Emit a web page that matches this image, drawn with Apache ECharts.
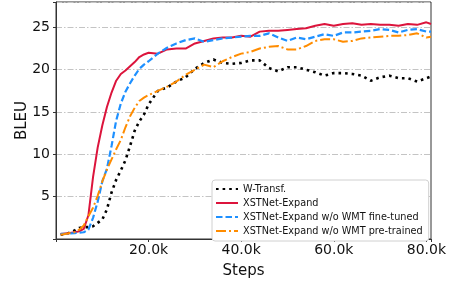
<!DOCTYPE html>
<html>
<head>
<meta charset="utf-8">
<script src="https://cdn.jsdelivr.net/npm/echarts@6/dist/echarts.min.js"></script>
<style>
  html, body { margin: 0; padding: 0; background: #fff; }
  #chart { width: 454px; height: 284px; }
</style>
</head>
<body>
<div id="chart"></div>
<script>
// training steps, in thousands
var steps = [1, 2, 3, 4, 5, 6, 7, 8, 9, 10, 11, 12, 13, 14, 15, 16, 17, 18, 19, 20,
    22, 24, 26, 28, 30, 32, 34, 36, 38, 40, 42, 44, 46, 48, 50, 52, 54, 56, 58, 60,
    62, 64, 66, 68, 70, 72, 74, 76, 78, 80, 81];

var wTransf = [0.5, 0.6, 0.75, 1.0, 1.3, 1.4, 1.4, 1.5, 1.9, 2.3, 3.5, 5.5, 7.0, 8.1, 9.3, 11.0, 12.8, 13.9, 14.7, 15.9,
    17.5, 17.9, 18.6, 19.1, 20.1, 20.8, 21.2, 20.8, 20.7, 20.8, 21.1, 21.1, 20.2, 19.8, 20.3, 20.3, 20.0, 19.7, 19.3, 19.6,
    19.6, 19.5, 19.3, 18.7, 19.1, 19.3, 19.0, 19.0, 18.6, 19.0, 19.2];

var xstnet = [0.6, 0.65, 0.7, 0.8, 0.9, 1.2, 2.8, 7.3, 10.8, 13.4, 15.6, 17.3, 18.7, 19.5, 19.9, 20.4, 20.9, 21.5, 21.8, 22.0,
    21.9, 22.4, 22.5, 22.5, 23.1, 23.4, 23.7, 23.8, 23.8, 24.0, 23.9, 24.5, 24.6, 24.6, 24.7, 24.8, 24.9, 25.2, 25.4, 25.2,
    25.4, 25.5, 25.3, 25.4, 25.3, 25.3, 25.2, 25.4, 25.3, 25.6, 25.4];

var noFineTune = [0.6, 0.6, 0.65, 0.7, 0.75, 0.8, 1.1, 2.5, 4.4, 6.8, 8.3, 11.0, 14.0, 16.0, 17.4, 18.4, 19.3, 20.1, 20.6, 21.0,
    21.9, 22.6, 23.1, 23.5, 23.7, 23.3, 23.5, 23.7, 23.8, 23.9, 24.0, 24.0, 24.3, 23.8, 23.4, 23.8, 23.6, 23.9, 24.2, 24.0,
    24.4, 24.4, 24.5, 24.6, 24.8, 24.7, 24.4, 24.7, 24.8, 24.5, 24.5];

var noPreTrain = [0.5, 0.6, 0.7, 0.8, 1.1, 1.6, 2.7, 3.7, 5.1, 6.8, 8.2, 9.4, 10.6, 11.7, 13.2, 14.5, 15.5, 16.3, 16.7, 17.0,
    17.5, 18.0, 18.6, 19.4, 20.0, 20.6, 20.3, 21.0, 21.5, 21.9, 22.1, 22.5, 22.7, 22.8, 22.4, 22.4, 22.8, 23.4, 23.6, 23.6,
    23.3, 23.4, 23.7, 23.8, 23.9, 24.0, 24.0, 24.1, 24.3, 23.8, 23.9];

var seriesNames = ['W-Transf.', 'XSTNet-Expand', 'XSTNet-Expand w/o WMT fine-tuned', 'XSTNet-Expand w/o WMT pre-trained'];

function pairs(vals) {
    return steps.map(function (s, i) { return [s, vals[i]]; });
}

var myChart = echarts.init(document.getElementById('chart'));

var font = 'DejaVu Sans';

option = {
    animation: false,
    textStyle: {fontFamily: font},
    grid: {
        left: 56, right: 23, top: 2, bottom: 38,
        show: true,
        borderColor: '#333',
        borderWidth: 1
    },
    legend: {
        orient: 'vertical',
        left: 212,
        top: 180,
        data: seriesNames,
        itemWidth: 22,
        itemHeight: 10,
        itemGap: 4,
        padding: [4, 6, 5, 3],
        backgroundColor: '#fff',
        borderColor: '#d0d0d0',
        borderWidth: 1,
        borderRadius: 3,
        // hide the little circle drawn on line icons, keep only the line
        itemStyle: {color: 'transparent', borderColor: 'transparent', borderWidth: 0, opacity: 0},
        textStyle: {fontFamily: font, fontSize: 9.7, color: '#111'}
    },
    xAxis: {
        type: 'value',
        min: 0,
        max: 81,
        interval: 20,
        name: 'Steps',
        nameLocation: 'middle',
        nameGap: 25,
        nameMoveOverlap: false,
        nameTextStyle: {fontFamily: font, fontSize: 15, color: '#111'},
        axisLine: {show: true, lineStyle: {color: '#333', width: 1}},
        axisTick: {show: true, length: 3, lineStyle: {color: '#333'}},
        axisLabel: {
            margin: 4,
            fontFamily: font,
            fontSize: 14,
            color: '#111',
            formatter: function (v) {
                return (v > 0 && v % 20 === 0) ? v.toFixed(1) + 'k' : '';
            }
        },
        splitLine: {show: false}
    },
    yAxis: {
        type: 'value',
        min: 0,
        max: 28,
        interval: 5,
        name: 'BLEU',
        nameLocation: 'middle',
        nameGap: 26,
        nameMoveOverlap: false,
        nameTextStyle: {fontFamily: font, fontSize: 15, color: '#111'},
        axisLine: {show: true, lineStyle: {color: '#333', width: 1}},
        axisTick: {show: true, length: 3, lineStyle: {color: '#333'}},
        axisLabel: {
            margin: 6,
            fontFamily: font,
            fontSize: 14,
            color: '#111',
            formatter: function (v) {
                return (v > 0 && v % 5 === 0) ? String(v) : '';
            }
        },
        splitLine: {
            show: true,
            lineStyle: {color: '#c4c4c4', width: 1, type: [6, 2, 1.5, 2]}
        }
    },
    series: [
        {
            name: seriesNames[0],
            type: 'line',
            data: pairs(wTransf),
            symbol: 'none',
            color: '#000',
            lineStyle: {color: '#000', width: 2.6, type: [2.6, 4]}
        },
        {
            name: seriesNames[1],
            type: 'line',
            data: pairs(xstnet),
            symbol: 'none',
            color: '#DC143C',
            lineStyle: {color: '#DC143C', width: 2}
        },
        {
            name: seriesNames[2],
            type: 'line',
            data: pairs(noFineTune),
            symbol: 'none',
            color: '#1E90FF',
            lineStyle: {color: '#1E90FF', width: 2.2, type: [6.5, 3]}
        },
        {
            name: seriesNames[3],
            type: 'line',
            data: pairs(noPreTrain),
            symbol: 'none',
            color: '#FF8C00',
            lineStyle: {color: '#FF8C00', width: 2, type: [10, 3, 2, 3]}
        }
    ]
};

myChart.setOption(option);

window.addEventListener("resize", function () {
    myChart.resize();
});
</script>
</body>
</html>
